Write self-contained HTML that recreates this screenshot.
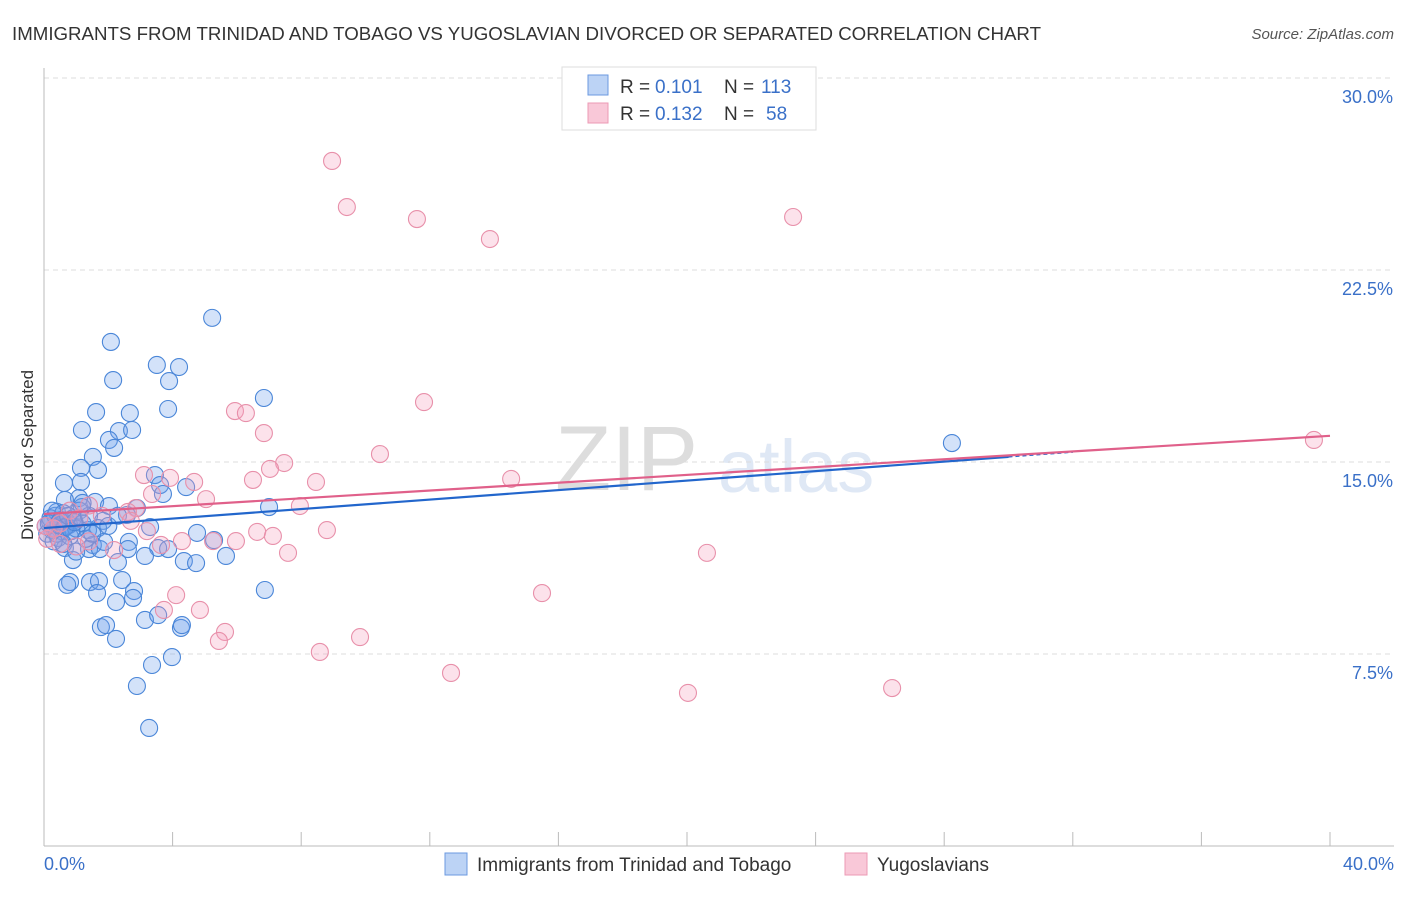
<!DOCTYPE html>
<html><head><meta charset="utf-8"><style>
body{margin:0;background:#fff;font-family:"Liberation Sans",sans-serif}
svg text{font-family:"Liberation Sans",sans-serif}
</style></head><body>
<svg id="c" width="1406" height="892">
<text x="12" y="40" font-size="18.7" fill="#333">IMMIGRANTS FROM TRINIDAD AND TOBAGO VS YUGOSLAVIAN DIVORCED OR SEPARATED CORRELATION CHART</text>
<text x="1394" y="39" font-size="15" fill="#555" text-anchor="end" font-style="italic">Source: ZipAtlas.com</text>
<text x="555" y="490" font-size="92" fill="#ddd" font-family="Liberation Serif">ZIP</text>
<text x="718" y="492" font-size="74" fill="#dfe8f5">atlas</text>
<g id="grid"></g><g id="axes"></g><g id="pts"></g><g id="lines"></g>
<text transform="translate(33,455) rotate(-90)" font-size="17" fill="#333" text-anchor="middle">Divorced or Separated</text>
<g>
<rect x="562" y="67" width="254" height="63" fill="#fff" stroke="#ddd"/>
<rect x="588" y="75" width="20" height="20" fill="#bcd3f5" stroke="#6b9ae0"/>
<rect x="588" y="103" width="20" height="20" fill="#f9c8d8" stroke="#ec9ab5"/>
<text x="620" y="93" font-size="19" fill="#333">R =</text>
<text x="655" y="93" font-size="19" fill="#3a70c8">0.101</text>
<text x="724" y="93" font-size="19" fill="#333">N =</text>
<text x="761" y="93" font-size="19" fill="#3a70c8">113</text>
<text x="620" y="120" font-size="19" fill="#333">R =</text>
<text x="655" y="120" font-size="19" fill="#3a70c8">0.132</text>
<text x="724" y="120" font-size="19" fill="#333">N =</text>
<text x="766" y="120" font-size="19" fill="#3a70c8">58</text>
</g>
<g>
<rect x="445" y="853" width="22" height="22" fill="#bcd3f5" stroke="#6b9ae0"/>
<text x="477" y="871" font-size="19" fill="#333">Immigrants from Trinidad and Tobago</text>
<rect x="845" y="853" width="22" height="22" fill="#f9c8d8" stroke="#ec9ab5"/>
<text x="877" y="871" font-size="19" fill="#333">Yugoslavians</text>
</g>
</svg>
<script>
const yTicks=[7.5,15,22.5,30];
const yTickLabels=["7.5%","15.0%","22.5%","30.0%"];
const xTickLabels=["0.0%","40.0%"];
const blueX=[5.23,2.08,3.51,4.20,2.15,3.89,3.86,1.62,2.67,6.84,1.18,2.33,2.74,2.02,2.18,1.52,1.15,0.62,1.15,3.45,3.61,4.42,3.70,1.68,1.09,0.65,1.59,2.02,2.89,1.18,0.40,0.93,7.00,2.58,1.84,0.53,0.19,0.25,0.78,0.44,1.37,1.68,3.30,4.76,5.29,1.52,2.64,3.55,3.86,1.40,0.65,1.74,1.87,2.61,3.14,2.30,4.35,4.73,5.66,0.90,0.81,1.43,1.71,2.43,0.72,1.65,2.80,6.87,2.24,2.77,4.26,1.77,1.93,3.14,3.55,4.29,2.24,3.98,3.36,2.89,3.27,28.24,0.05,0.1,0.2,0.3,0.35,0.45,0.55,0.6,0.7,0.8,0.9,1.0,1.1,1.2,1.3,0.15,0.25,0.4,0.5,0.65,0.75,0.85,0.95,1.4,1.5,2.0,2.3,0.3,0.6,1.0,1.2];
const blueY=[20.63,19.69,18.79,18.71,18.20,18.16,17.07,16.95,16.91,17.50,16.25,16.21,16.25,15.86,15.55,15.20,14.77,14.18,14.22,14.49,14.10,14.02,13.75,14.69,13.59,13.52,13.44,13.28,13.20,13.24,13.05,12.73,13.24,12.93,12.70,12.73,12.66,12.34,12.54,12.03,12.34,12.42,12.46,12.23,11.95,11.76,11.88,11.64,11.60,11.60,11.64,11.60,11.88,11.60,11.33,11.09,11.13,11.05,11.33,11.17,10.31,10.31,10.35,10.39,10.20,9.88,9.96,10.00,9.53,9.69,8.52,8.55,8.63,8.83,9.02,8.63,8.09,7.38,7.07,6.25,4.61,15.74,12.5,12.2,12.8,12.4,12.9,12.6,12.3,13.0,12.5,12.1,12.8,12.4,13.1,12.6,12.0,12.6,13.1,12.2,12.7,12.45,12.9,12.3,12.65,12.9,12.2,12.5,12.9,11.9,11.8,11.5,13.4];
const pinkX=[8.96,9.42,11.60,13.87,23.30,11.82,5.94,6.28,6.84,10.45,7.47,7.03,6.50,4.67,3.92,3.11,3.36,8.46,14.53,5.04,7.96,2.86,2.61,8.80,6.63,7.12,5.97,5.26,4.29,2.18,7.59,20.62,3.64,15.49,4.11,4.85,3.73,5.63,5.44,9.83,8.58,12.66,20.03,26.38,39.50,0.1,0.3,0.5,0.8,1.1,1.4,0.5,0.05,1.4,1.0,2.7,3.2,1.8];
const pinkY=[26.76,24.96,24.49,23.71,24.57,17.34,16.99,16.91,16.13,15.31,14.96,14.73,14.30,14.22,14.38,14.49,13.75,14.22,14.34,13.55,13.28,13.20,13.05,12.34,12.27,12.11,11.91,11.91,11.91,11.56,11.45,11.45,11.76,9.88,9.80,9.22,9.22,8.36,8.01,8.16,7.58,6.76,5.98,6.17,15.86,12.0,12.4,12.6,13.1,12.8,13.3,11.8,12.5,11.9,11.7,12.7,12.3,12.9];
const blueTrend=[12.42,0.0927];
const pinkTrend=[12.97,0.0763];
const X=v=>44+v*32.15, Y=v=>846-v*25.6;
const NS="http://www.w3.org/2000/svg";
function mk(tag,attrs,parent){const e=document.createElementNS(NS,tag);for(const k in attrs)e.setAttribute(k,attrs[k]);document.getElementById(parent).appendChild(e);return e;}
yTicks.forEach((t,i)=>{
 const l=mk('line',{x1:44,x2:1394,y1:Y(t),y2:Y(t),stroke:'#ddd','stroke-dasharray':'5,4'},'grid');
 
 
 const tx=mk('text',{x:1393,y:Y(t)+25,'font-size':18,fill:'#3a70c8','text-anchor':'end'},'grid');
 tx.textContent=yTickLabels[i];
 
 
});
const ax=mk('line',{x1:44,x2:44,y1:68,y2:846,stroke:'#bbb'},'axes');


const bx=mk('line',{x1:44,x2:1394,y1:846,y2:846,stroke:'#bbb'},'axes');


for(let i=0;i<=10;i++){const t=mk('line',{x1:X(i*4),x2:X(i*4),y1:832,y2:846,stroke:'#bbb'},'axes');
 
 }
[[0,'start',44],[40,'end',1394]].forEach((d,i)=>{const t=mk('text',{x:d[2],y:870,'font-size':18,fill:'#3a70c8','text-anchor':d[1]},'axes');t.textContent=xTickLabels[i];
 
 });
blueX.forEach((x,i)=>{const c=mk('circle',{cx:X(x),cy:Y(blueY[i]),r:8.5,fill:'rgba(110,160,235,0.3)',stroke:'#4a86d8','stroke-width':1.1},'pts');
 
 });
pinkX.forEach((x,i)=>{const c=mk('circle',{cx:X(x),cy:Y(pinkY[i]),r:8.5,fill:'rgba(245,160,190,0.3)',stroke:'#e890aa','stroke-width':1.1},'pts');
 
 });
const bl=mk('line',{x1:X(0),y1:Y(blueTrend[0]),x2:X(30),y2:Y(blueTrend[0]+30*blueTrend[1]),stroke:'#2266cc','stroke-width':2.2},'lines');


const bd=mk('line',{x1:X(30),y1:Y(blueTrend[0]+30*blueTrend[1]),x2:X(32),y2:Y(blueTrend[0]+32*blueTrend[1]),stroke:'#2266cc','stroke-width':1.5,'stroke-dasharray':'4,3'},'lines');


const pl=mk('line',{x1:X(0),y1:Y(pinkTrend[0]),x2:X(40),y2:Y(pinkTrend[0]+40*pinkTrend[1]),stroke:'#e0608a','stroke-width':2.2},'lines');


</script>
</body></html>
